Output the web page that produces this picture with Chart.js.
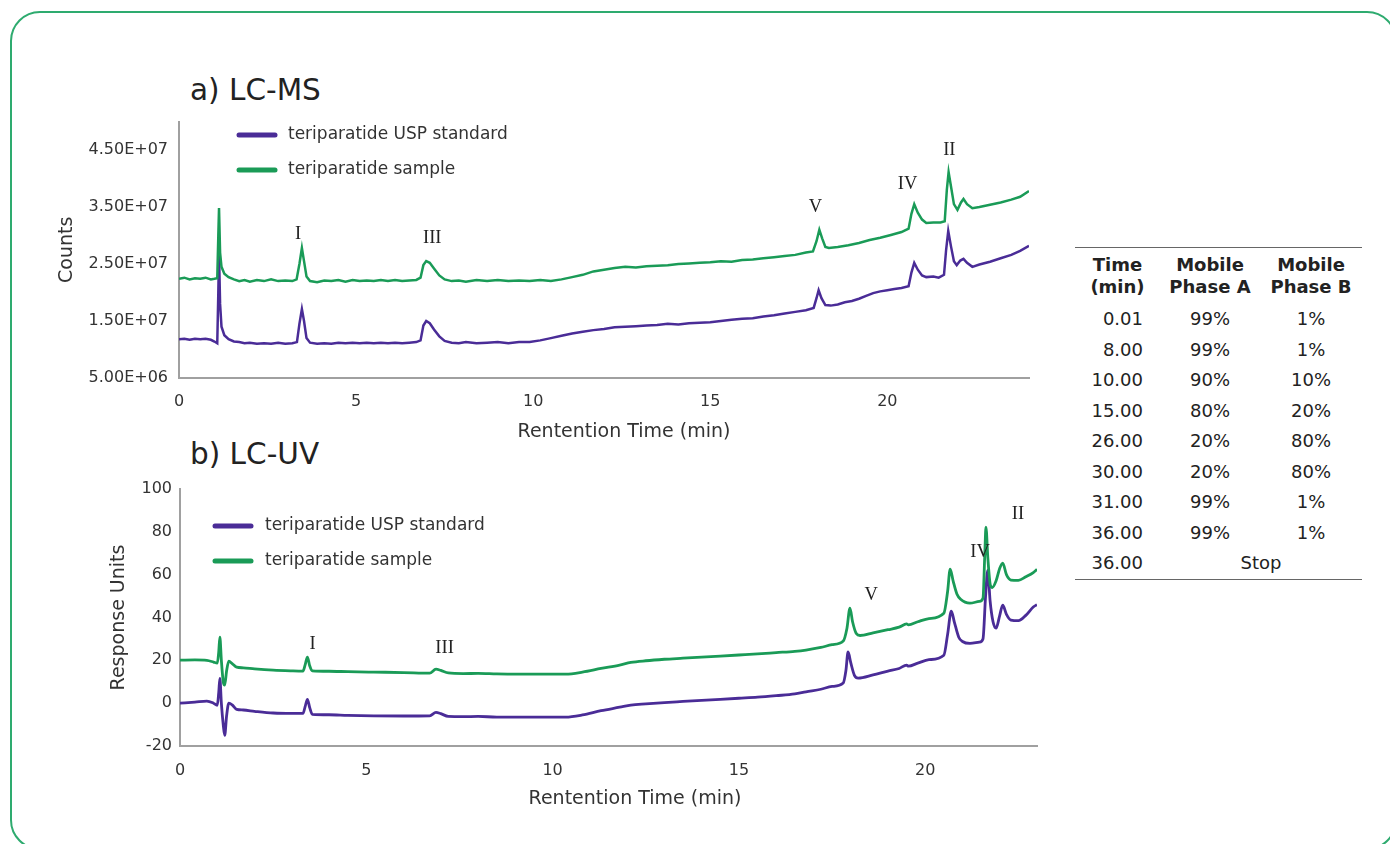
<!DOCTYPE html>
<html>
<head>
<meta charset="utf-8">
<script src="https://cdn.jsdelivr.net/npm/chart.js@4.4.0/dist/chart.umd.min.js"></script>
<style>
body { margin: 0; background: #fff; font-family: "DejaVu Sans", sans-serif; color: #222; }
#page { position: relative; width: 1390px; height: 844px; overflow: hidden; }
#frame { position: absolute; left: 10px; top: 11px; width: 1387px; height: 839px; border: 2px solid #2eab6f; border-radius: 30px; box-sizing: border-box; }
.title { position: absolute; left: 190px; font-size: 29.5px; line-height: 30px; transform: translateY(-50%); color: #222; }
.xtitle { position: absolute; font-size: 19px; line-height: 19px; color: #333; transform: translate(-50%, -50%); white-space: nowrap; }
#msChart { position: absolute; left: 30px; top: 100px; }
#uvChart { position: absolute; left: 30px; top: 470px; }
#grad { position: absolute; left: 1075px; top: 247px; width: 287px; border-collapse: collapse; table-layout: fixed;
        border-top: 1.5px solid #666; border-bottom: 1.5px solid #666; font-size: 18px; color: #222; }
#grad th { font-weight: bold; line-height: 22px; padding: 6px 0 6px 0; text-align: center; }
#grad td { height: 30.5px; line-height: 30.5px; padding: 0; text-align: center; }
#grad td.t { text-align: right; padding-right: 17px; }
</style>
</head>
<body>
<div id="page">
  <div id="frame"></div>
  <div class="title" style="top:90px">a) LC-MS</div>
  <div class="title" style="top:454px">b) LC-UV</div>
  <canvas id="msChart" width="1020" height="350"></canvas>
  <canvas id="uvChart" width="1030" height="345"></canvas>
  <div class="xtitle" style="left:624px; top:430px">Rentention Time (min)</div>
  <div class="xtitle" style="left:635px; top:797px">Rentention Time (min)</div>
  <table id="grad">
    <colgroup><col style="width:85px"><col style="width:100px"><col style="width:102px"></colgroup>
    <thead><tr><th>Time<br>(min)</th><th>Mobile<br>Phase A</th><th>Mobile<br>Phase B</th></tr></thead>
    <tbody id="gradBody"></tbody>
  </table>
</div>
<script>
// ---- LC-MS traces (time in min, counts in millions) ----
var msStdTime = [0, 0.15, 0.3, 0.45, 0.6, 0.75, 0.9, 1.0, 1.08, 1.11, 1.13, 1.16, 1.2, 1.28, 1.4, 1.55, 1.7, 1.85, 2.0, 2.2, 2.4, 2.6, 2.8, 3.0, 3.2, 3.33, 3.40, 3.47, 3.53, 3.6, 3.7, 3.9, 4.1, 4.3, 4.5, 4.7, 4.9, 5.1, 5.3, 5.5, 5.7, 5.9, 6.1, 6.3, 6.5, 6.7, 6.82, 6.9, 6.98, 7.08, 7.2, 7.35, 7.5, 7.7, 7.9, 8.1, 8.4, 8.7, 9.0, 9.3, 9.6, 9.9, 10.2, 10.5, 10.8, 11.1, 11.4, 11.7, 12.0, 12.3, 12.6, 12.9, 13.2, 13.5, 13.8, 14.1, 14.4, 14.7, 15.0, 15.3, 15.6, 15.9, 16.2, 16.5, 16.8, 17.1, 17.4, 17.7, 17.92, 18.0, 18.06, 18.14, 18.25, 18.4, 18.6, 18.8, 19.0, 19.2, 19.4, 19.6, 19.8, 20.0, 20.2, 20.4, 20.6, 20.68, 20.76, 20.86, 20.98, 21.1, 21.3, 21.45, 21.6, 21.66, 21.72, 21.8, 21.88, 21.96, 22.06, 22.15, 22.25, 22.4, 22.6, 22.9, 23.2, 23.5, 23.75, 24.0];
var msStdCounts = [11.8, 11.9, 11.7, 11.9, 11.8, 11.9, 11.7, 11.4, 11.1, 20, 27, 18, 14.0, 12.5, 11.8, 11.4, 11.3, 11.1, 11.2, 11.0, 11.1, 11.0, 11.2, 11.0, 11.1, 11.3, 14.5, 17.1, 15.0, 12.0, 11.2, 11.0, 11.1, 11.0, 11.2, 11.1, 11.2, 11.1, 11.2, 11.1, 11.2, 11.1, 11.2, 11.1, 11.2, 11.3, 11.6, 14.2, 15.0, 14.6, 13.5, 12.3, 11.5, 11.2, 11.1, 11.3, 11.1, 11.2, 11.3, 11.1, 11.3, 11.3, 11.6, 12.0, 12.4, 12.8, 13.1, 13.4, 13.6, 13.9, 14.0, 14.1, 14.2, 14.3, 14.5, 14.4, 14.6, 14.7, 14.8, 15.0, 15.2, 15.4, 15.5, 15.8, 16.0, 16.3, 16.6, 16.9, 17.3, 19.0, 20.4, 19.0, 17.8, 17.7, 17.9, 18.3, 18.5, 18.9, 19.4, 19.9, 20.2, 20.4, 20.6, 20.8, 21.1, 23.5, 25.2, 24.0, 23.0, 22.7, 22.8, 22.6, 23.1, 27.5, 30.8, 28.0, 25.5, 24.8, 25.6, 25.9, 25.2, 24.5, 24.9, 25.4, 26.0, 26.6, 27.3, 28.2];
var msSampleTime = [0, 0.15, 0.3, 0.45, 0.6, 0.75, 0.9, 1.0, 1.08, 1.11, 1.13, 1.16, 1.2, 1.28, 1.4, 1.55, 1.7, 1.85, 2.0, 2.2, 2.4, 2.6, 2.8, 3.0, 3.2, 3.32, 3.40, 3.47, 3.53, 3.6, 3.7, 3.9, 4.1, 4.3, 4.5, 4.7, 4.9, 5.1, 5.3, 5.5, 5.7, 5.9, 6.1, 6.3, 6.5, 6.7, 6.82, 6.9, 6.98, 7.08, 7.2, 7.35, 7.5, 7.7, 7.9, 8.1, 8.4, 8.7, 9.0, 9.3, 9.6, 9.9, 10.2, 10.5, 10.8, 11.1, 11.4, 11.7, 12.0, 12.3, 12.6, 12.9, 13.2, 13.5, 13.8, 14.1, 14.4, 14.7, 15.0, 15.3, 15.6, 15.9, 16.2, 16.5, 16.8, 17.1, 17.4, 17.7, 17.9, 18.0, 18.08, 18.16, 18.25, 18.35, 18.6, 18.9, 19.2, 19.5, 19.8, 20.1, 20.4, 20.6, 20.68, 20.76, 20.86, 20.98, 21.1, 21.3, 21.5, 21.62, 21.68, 21.73, 21.8, 21.88, 21.98, 22.08, 22.15, 22.25, 22.4, 22.6, 22.9, 23.2, 23.5, 23.75, 24.0];
var msSampleCounts = [22.4, 22.6, 22.3, 22.5, 22.4, 22.6, 22.3, 22.4, 22.5, 30, 34.8, 27, 24.5, 23.3, 22.7, 22.3, 22.0, 22.2, 21.9, 22.2, 22.0, 22.3, 22.0, 22.1, 22.0, 22.3, 25.0, 27.8, 25.5, 22.8, 22.0, 21.8, 22.1, 22.0, 22.2, 21.9, 22.2, 22.0, 22.1, 22.0, 22.2, 22.0, 22.2, 22.0, 22.1, 22.2, 22.6, 24.8, 25.5, 25.2, 24.2, 23.0, 22.3, 22.0, 22.1, 21.9, 22.2, 22.0, 22.2, 22.0, 22.1, 22.0, 22.2, 22.0, 22.3, 22.7, 23.1, 23.7, 24.0, 24.3, 24.5, 24.4, 24.6, 24.7, 24.8, 25.0, 25.1, 25.2, 25.3, 25.5, 25.4, 25.7, 25.8, 26.0, 26.2, 26.4, 26.6, 27.0, 27.2, 29.0, 31.0, 29.5, 28.0, 27.8, 28.0, 28.3, 28.7, 29.2, 29.6, 30.1, 30.6, 31.2, 33.8, 35.5, 34.0, 32.8, 32.2, 32.3, 32.3, 32.5, 38.0, 41.1, 38.5, 35.5, 34.5, 35.8, 36.4, 35.5, 34.8, 35.0, 35.4, 35.8, 36.3, 36.8, 37.8];
var msXTicks = [0, 5, 10, 15, 20];
var msYTicks = [5e6, 1.5e7, 2.5e7, 3.5e7, 4.5e7];

// ---- LC-UV traces (time in min, response units) ----
var uvStdTime = [0, 0.4, 0.72, 0.9, 1.0, 1.04, 1.07, 1.11, 1.16, 1.2, 1.25, 1.31, 1.4, 1.52, 1.7, 2.0, 2.5, 3.0, 3.3, 3.36, 3.42, 3.48, 3.55, 4.0, 4.5, 5.2, 6.0, 6.7, 6.87, 7.0, 7.2, 7.6, 8.0, 8.5, 9.0, 9.6, 10.35, 10.8, 11.3, 11.8, 12.1, 12.5, 13.0, 13.5, 14.0, 14.5, 15.0, 15.5, 16.0, 16.5, 16.8, 17.2, 17.5, 17.8, 17.87, 17.93, 18.0, 18.1, 18.2, 18.6, 19.0, 19.3, 19.5, 19.55, 19.8, 20.1, 20.5, 20.6, 20.7, 20.78, 20.9, 21.0, 21.2, 21.45, 21.55, 21.62, 21.68, 21.74, 21.82, 21.9, 22.0, 22.08, 22.18, 22.3, 22.5, 22.7, 22.9, 23.0];
var uvStdResp = [0.0, 0.5, 1.0, 0.0, -1.0, 5, 11.6, 0, -10, -15, -6, 0.0, -0.8, -2.9, -3.2, -3.8, -4.6, -4.8, -4.8, -1.5, 1.8, -2.0, -5.2, -5.4, -5.7, -5.9, -6.0, -5.9, -4.3, -4.9, -6.2, -6.3, -6.2, -6.5, -6.5, -6.5, -6.5, -5.5, -3.5, -1.9, -0.9, -0.3, 0.3, 0.8, 1.3, 1.8, 2.3, 2.8, 3.5, 4.3, 5.3, 6.5, 7.8, 9.4, 15, 23.9, 19, 13, 11.7, 13.2, 15.0, 16.2, 17.8, 17.3, 18.7, 20.3, 22.4, 32, 43.0, 38, 30.8, 28.8, 27.9, 28.5, 30.0, 50, 62.1, 48, 38, 35.0, 41, 45.8, 41.5, 38.8, 38.5, 41, 44.9, 46];
var uvSampleTime = [0, 0.4, 0.72, 0.9, 1.0, 1.04, 1.07, 1.11, 1.16, 1.2, 1.25, 1.31, 1.4, 1.52, 1.7, 2.0, 2.5, 3.0, 3.3, 3.36, 3.42, 3.48, 3.55, 4.0, 4.5, 5.2, 6.0, 6.7, 6.87, 7.0, 7.2, 7.6, 8.0, 8.5, 9.0, 9.6, 10.35, 10.8, 11.3, 11.8, 12.1, 12.5, 13.0, 13.5, 14.0, 14.5, 15.0, 15.5, 16.0, 16.5, 16.8, 17.2, 17.5, 17.8, 17.9, 17.98, 18.05, 18.15, 18.25, 18.6, 19.0, 19.3, 19.5, 19.55, 19.8, 20.1, 20.5, 20.6, 20.67, 20.75, 20.85, 20.95, 21.2, 21.45, 21.55, 21.6, 21.63, 21.68, 21.75, 21.8, 21.9, 22.0, 22.08, 22.18, 22.3, 22.5, 22.7, 22.9, 23.0];
var uvSampleResp = [20.1, 20.2, 20.0, 19.2, 18.7, 24, 30.8, 20, 10, 8.4, 15, 19.6, 18.5, 16.8, 16.5, 16.0, 15.4, 15.1, 15.0, 18.0, 21.5, 17.5, 15.1, 14.9, 14.7, 14.5, 14.3, 14.0, 15.9, 15.3, 14.1, 13.8, 13.9, 13.7, 13.6, 13.6, 13.6, 14.5, 16.2, 17.8, 19.0, 19.8, 20.5, 21.0, 21.5, 22.0, 22.5, 23.0, 23.6, 24.2, 24.8, 26.0, 27.3, 29.0, 35, 44.4, 38, 32.5, 31.6, 32.8, 34.3, 35.5, 37.0, 36.6, 38.0, 39.5, 42.0, 52, 62.6, 57, 51, 48.5, 46.7, 47.5, 49, 70, 82.2, 68, 55, 54, 57, 63, 65.4, 60, 57.5, 57.3, 59, 61, 62.5];
var uvXTicks = [0, 5, 10, 15, 20];
var uvYTicks = [-20, 0, 20, 40, 60, 80, 100];

// ---- peak labels ----
var peakNames = ['I', 'III', 'V', 'IV', 'II'];
var msPeakTime = [3.36, 7.15, 17.97, 20.57, 21.75];
var msPeakCounts = [30.3, 29.6, 35.0, 39.0, 45.0];
var uvPeakTime = [3.56, 7.1, 18.55, 21.47, 22.49];
var uvPeakResp = [27.6, 25.7, 50.5, 70.6, 88.3];

// ---- gradient table ----
var gradTime = ['0.01', '8.00', '10.00', '15.00', '26.00', '30.00', '31.00', '36.00', '36.00'];
var gradA = ['99%', '99%', '90%', '80%', '20%', '20%', '99%', '99%', 'Stop'];
var gradB = ['1%', '1%', '10%', '20%', '80%', '80%', '1%', '1%', null];

var PURPLE = '#4a2c97';
var GREEN = '#1a9b57';

Chart.defaults.font.family = '"DejaVu Sans", sans-serif';
Chart.defaults.color = '#333';

function sciLabel(v) {
    var parts = v.toExponential(2).split('e');
    var exp = parts[1];
    var sign = exp[0] === '-' ? '-' : '+';
    var digits = exp.replace('-', '').replace('+', '');
    if (digits.length < 2) digits = '0' + digits;
    return parts[0] + 'E' + sign + digits;
}

function pairs(xs, ys, mult) {
    var out = [];
    for (var i = 0; i < xs.length; i++) {
        out.push({x: xs[i], y: ys[i] * mult});
    }
    return out;
}

// legend drawn as a short thick line + text inside the plot area
var lineLegend = {
    id: 'lineLegend',
    afterDraw: function(chart, args, opts) {
        var ctx = chart.ctx, area = chart.chartArea;
        ctx.save();
        ctx.font = '17px "DejaVu Sans"';
        ctx.textBaseline = 'middle';
        chart.data.datasets.forEach(function(ds, i) {
            var x = area.left + opts.x, y = area.top + opts.y + i * opts.gap;
            ctx.strokeStyle = ds.borderColor;
            ctx.lineWidth = 5;
            ctx.lineCap = 'round';
            ctx.beginPath();
            ctx.moveTo(x + 2, y);
            ctx.lineTo(x + 38, y);
            ctx.stroke();
            ctx.fillStyle = '#333';
            ctx.fillText(ds.label, x + opts.textOffset, y);
        });
        ctx.restore();
    }
};

var peakLabels = {
    id: 'peakLabels',
    afterDatasetsDraw: function(chart, args, opts) {
        var ctx = chart.ctx, sx = chart.scales.x, sy = chart.scales.y;
        ctx.save();
        ctx.font = '18.5px "Liberation Serif"';
        ctx.fillStyle = '#222';
        ctx.textAlign = 'center';
        ctx.textBaseline = 'middle';
        for (var i = 0; i < opts.names.length; i++) {
            ctx.fillText(opts.names[i], sx.getPixelForValue(opts.xs[i]), sy.getPixelForValue(opts.ys[i] * opts.mult));
        }
        ctx.restore();
    }
};

function makeChart(id, cfg) {
    return new Chart(document.getElementById(id), {
        type: 'line',
        data: {
            datasets: [{
                label: 'teriparatide USP standard',
                data: pairs(cfg.stdX, cfg.stdY, cfg.mult),
                borderColor: PURPLE,
                borderWidth: cfg.lw,
                pointRadius: 0,
                order: 2,
                cubicInterpolationMode: cfg.smooth ? 'monotone' : 'default'
            }, {
                label: 'teriparatide sample',
                data: pairs(cfg.sampleX, cfg.sampleY, cfg.mult),
                borderColor: GREEN,
                borderWidth: cfg.lw,
                pointRadius: 0,
                order: 1,
                cubicInterpolationMode: cfg.smooth ? 'monotone' : 'default'
            }]
        },
        options: {
            responsive: false,
            animation: false,
            events: [],
            layout: {padding: {left: 0, top: cfg.padTop, right: cfg.padRight, bottom: 0}},
            plugins: {
                legend: {display: false},
                tooltip: {enabled: false},
                lineLegend: cfg.legend,
                peakLabels: {names: peakNames, xs: cfg.peakX, ys: cfg.peakY, mult: cfg.mult}
            },
            scales: {
                x: {
                    type: 'linear',
                    min: 0,
                    max: cfg.xMax,
                    grid: {display: false, drawTicks: false},
                    border: {color: '#a0a0a0', width: 2},
                    ticks: {font: {size: 16}, color: '#333', padding: cfg.xTickPad},
                    afterBuildTicks: function(s) { s.ticks = cfg.xTicks.map(function(v) { return {value: v}; }); },
                    afterFit: function(s) { s.height = cfg.xAxisH; }
                },
                y: {
                    type: 'linear',
                    min: cfg.yMin,
                    max: cfg.yMax,
                    grid: {display: false, drawTicks: false},
                    border: {color: '#a0a0a0', width: 2},
                    ticks: {font: {size: 16}, color: '#333', padding: cfg.yTickPad, callback: cfg.yFmt},
                    title: {display: true, text: cfg.yTitle, font: {size: 19}, color: '#333', padding: {top: cfg.yTitlePad, bottom: 0}},
                    afterBuildTicks: function(s) { s.ticks = cfg.yTicks.map(function(v) { return {value: v}; }); },
                    afterFit: function(s) { s.width = cfg.yAxisW; }
                }
            }
        },
        plugins: [lineLegend, peakLabels]
    });
}

makeChart('msChart', {
    stdX: msStdTime, stdY: msStdCounts, sampleX: msSampleTime, sampleY: msSampleCounts, mult: 1e6,
    lw: 2.5, smooth: false, xMax: 24, yMin: 5e6, yMax: 5e7,
    xTicks: msXTicks, yTicks: msYTicks, yFmt: function(v) { return sciLabel(v); },
    yTitle: 'Counts', yTitlePad: 26, yTickPad: 11, xTickPad: 14,
    padTop: 21.5, padRight: 21, xAxisH: 72, yAxisW: 149,
    legend: {x: 58, y: 13.5, gap: 35, textOffset: 51},
    peakX: msPeakTime, peakY: msPeakCounts
});

makeChart('uvChart', {
    stdX: uvStdTime, stdY: uvStdResp, sampleX: uvSampleTime, sampleY: uvSampleResp, mult: 1,
    lw: 2.8, smooth: true, xMax: 23, yMin: -20, yMax: 100,
    xTicks: uvXTicks, yTicks: uvYTicks, yFmt: function(v) { return String(v); },
    yTitle: 'Response Units', yTitlePad: 78, yTickPad: 8, xTickPad: 15,
    padTop: 19, padRight: 23, xAxisH: 69, yAxisW: 150,
    legend: {x: 33, y: 37, gap: 35, textOffset: 52},
    peakX: uvPeakTime, peakY: uvPeakResp
});

// gradient table body
var body = document.getElementById('gradBody');
for (var i = 0; i < gradTime.length; i++) {
    var tr = document.createElement('tr');
    var html = '<td class="t">' + gradTime[i] + '</td>';
    if (gradB[i] === null) {
        html += '<td colspan="2">' + gradA[i] + '</td>';
    } else {
        html += '<td>' + gradA[i] + '</td><td>' + gradB[i] + '</td>';
    }
    tr.innerHTML = html;
    body.appendChild(tr);
}
</script>
</body>
</html>
